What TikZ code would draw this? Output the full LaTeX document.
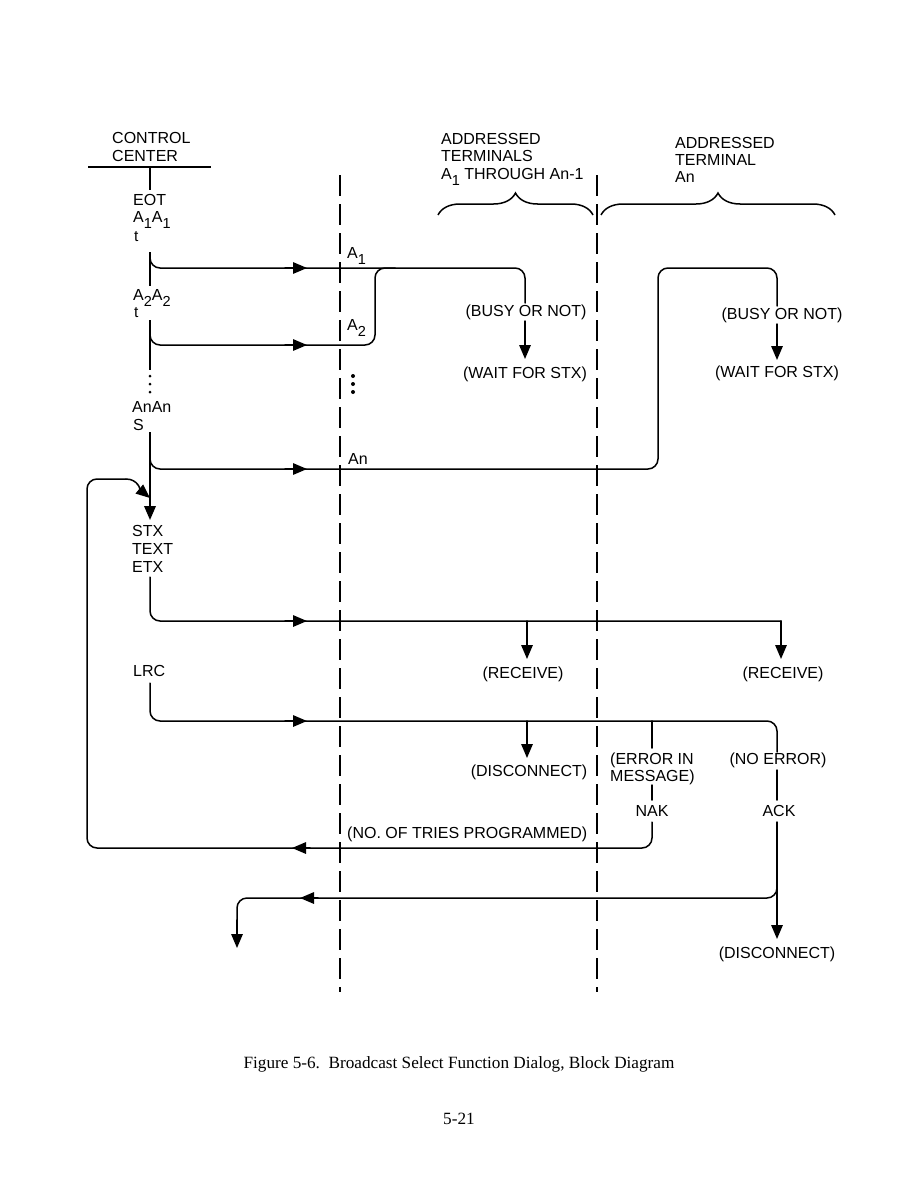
\documentclass[tikz,border=0pt]{standalone}
\usepackage{fontspec}
\setmainfont{Liberation Serif}
\newfontfamily\diagfont{Liberation Sans}
\usetikzlibrary{arrows.meta,decorations.pathreplacing}
\newcommand{\lowsub}[1]{\raisebox{-0.75ex}{\fontsize{14.5}{16}\selectfont #1}}
\tikzset{
  lbl/.style={font=\diagfont\fontsize{16}{19}\selectfont, inner sep=0pt, anchor=base},
  lblw/.style={lbl, anchor=base west},
  smallt/.style={font=\diagfont\fontsize{15.5}{18}\selectfont, inner sep=0pt, anchor=base west},
  ln/.style={line width=1.5pt, line cap=round},
  ctl/.style={line width=2pt},
  dl/.style={line width=1.5pt, dash pattern=on 21pt off 8pt},
  tip/.style={-{Triangle[length=14pt,width=11.5pt]}},
  rc/.style={rounded corners=10pt},
  brc/.style={line width=1.5pt, decorate, decoration={brace, amplitude=22pt, aspect=0.5}},
}
\begin{document}
\begin{tikzpicture}[x=1pt,y=-1pt]
\useasboundingbox (0,0) rectangle (918,1188);

% ---------- headings ----------
\node[lblw] (cc1) at (112,143) {CONTROL};
\node[lblw] (cc2) at (112,161) {CENTER};
\coordinate (ccL) at (88,167);
\coordinate (ccR) at (211,167);
\draw[ctl] (ccL) -- (ccR);

\node[lblw] (at1) at (441,144) {ADDRESSED};
\node[lblw] (at2) at (441,161) {TERMINALS};
\node[lblw] (at3) at (441,179) {A\lowsub{1} THROUGH An-1};
\node[lblw] (an1) at (675,148) {ADDRESSED};
\node[lblw] (an2) at (675,165) {TERMINAL};
\node[lblw] (an3) at (675,182) {An};

\coordinate (b1L) at (438,215);
\coordinate (b1R) at (593,215);
\coordinate (b2L) at (601,215);
\coordinate (b2R) at (835,215);
\draw[brc] (b1L) -- (b1R);
\draw[brc] (b2L) -- (b2R);

% ---------- dashed boundaries ----------
\coordinate (d1t) at (340,175); \coordinate (d1b) at (340,992);
\coordinate (d2t) at (597,175); \coordinate (d2b) at (597,992);
\draw[dl] (d1t) -- (d1b);
\draw[dl] (d2t) -- (d2b);

% ---------- control center column ----------
\coordinate (v0t) at (150,167); \coordinate (v0b) at (150,190);
\draw[ctl] (v0t) -- (v0b);
\node[lblw] (eot) at (133,205) {EOT};
\node[lblw] (a1a1) at (133,222) {A\lowsub{1}A\lowsub{1}};
\node[smallt] (t1) at (134,241) {t};

\coordinate (v1t) at (150,252); \coordinate (v1b) at (150,286);
\draw[ctl] (v1t) -- (v1b);
\node[lblw] (a2a2) at (133,300) {A\lowsub{2}A\lowsub{2}};
\node[smallt] (t2) at (134,317) {t};

\coordinate (v2t) at (150,320); \coordinate (v2b) at (150,370);
\draw[ctl] (v2t) -- (v2b);
\foreach \yy [count=\i] in {376,384,392} {
  \fill (150,\yy) circle (1.5pt) coordinate (cdot\i);
  \fill (353,\yy) circle (2pt) coordinate (ddot\i);
}
\node[lblw] (anan) at (132,412) {AnAn};
\node[lblw] (s) at (133,430) {S};

\coordinate (v3t) at (150,432); \coordinate (v3b) at (150,520);
\draw[ctl,tip] (v3t) -- (v3b);
\node[lblw] (stx) at (132,536) {STX};
\node[lblw] (text) at (132,554) {TEXT};
\node[lblw] (etx) at (132,572) {ETX};
\node[lblw] (lrc) at (133,676) {LRC};

% ---------- lane labels ----------
\node[lblw] (la1) at (347,258) {A\lowsub{1}};
\node[lblw] (la2) at (347,330) {A\lowsub{2}};
\node[lblw] (lan) at (348,464) {An};

% ---------- A1 ----------
\coordinate (a1s) at (150,256);
\coordinate (a1c) at (150,268);
\coordinate (a1r) at (525,268);
\coordinate (a1d) at (525,303);
\draw[ln,rc] (a1s) -- (a1c) -- (a1r) -- (a1d);
\draw[ln,tip] (285,268) -- (307,268);
\node[lbl] (busy1) at (526,316) {(BUSY OR NOT)};
\coordinate (w1t) at (525,321); \coordinate (w1b) at (525,359);
\draw[ln,tip] (w1t) -- (w1b);
\node[lbl] (wait1) at (525,378) {(WAIT FOR STX)};

% ---------- A2 ----------
\coordinate (a2s) at (150,333);
\coordinate (a2c) at (150,345);
\coordinate (a2r) at (375,345);
\coordinate (a2u) at (375,268);
\coordinate (a2j) at (395,268);
\draw[ln,rc] (a2s) -- (a2c) -- (a2r) -- (a2u) -- (a2j);
\draw[ln,tip] (285,345) -- (307,345);

% ---------- An ----------
\coordinate (ans) at (150,457);
\coordinate (anc) at (150,469);
\coordinate (anr) at (658,469);
\coordinate (anu) at (658,268);
\coordinate (anR) at (777,268);
\coordinate (and) at (777,306);
\draw[ln,rc] (ans) -- (anc) -- (anr) -- (anu) -- (anR) -- (and);
\draw[ln,tip] (285,469) -- (307,469);
\node[lbl] (busy2) at (782,319) {(BUSY OR NOT)};
\coordinate (w2t) at (777,324); \coordinate (w2b) at (777,360);
\draw[ln,tip] (w2t) -- (w2b);
\node[lbl] (wait2) at (777,377) {(WAIT FOR STX)};

% ---------- STX/TEXT/ETX ----------
\coordinate (tx0) at (150,577);
\coordinate (txc) at (150,621);
\coordinate (txr) at (781,621);
\coordinate (txd) at (781,659);
\draw[ln,rc] (tx0) -- (txc) -- (txr);
\draw[ln,tip] (txr) -- (txd);
\draw[ln,tip] (285,621) -- (307,621);
\coordinate (rc1t) at (527,621); \coordinate (rc1b) at (527,659);
\draw[ln,tip] (rc1t) -- (rc1b);
\node[lbl] (rec1) at (523,678) {(RECEIVE)};
\node[lbl] (rec2) at (783,678) {(RECEIVE)};

% ---------- LRC ----------
\coordinate (lr0) at (150,683);
\coordinate (lrc0) at (150,721);
\coordinate (lrR) at (777,721);
\coordinate (lrD) at (777,752);
\draw[ln,rc] (lr0) -- (lrc0) -- (lrR) -- (lrD);
\draw[ln,tip] (285,721) -- (307,721);
\coordinate (dc1t) at (527,721); \coordinate (dc1b) at (527,758);
\draw[ln,tip] (dc1t) -- (dc1b);
\node[lbl] (disc1) at (529,776) {(DISCONNECT)};
\coordinate (er0) at (652,721); \coordinate (er1) at (652,748);
\draw[ln] (er0) -- (er1);
\node[lblw] (err1) at (610,764) {(ERROR IN};
\node[lblw] (err2) at (610,781) {MESSAGE)};
\node[lbl] (noerr) at (778,764) {(NO ERROR)};
\coordinate (nk0) at (652,785); \coordinate (nk1) at (652,800);
\draw[ln] (nk0) -- (nk1);
\node[lbl] (nak) at (652,816) {NAK};
\coordinate (ak0) at (777,770); \coordinate (ak1) at (777,800);
\draw[ln] (ak0) -- (ak1);
\node[lbl] (ack) at (779,816) {ACK};

% ---------- retry loop ----------
\coordinate (lp0) at (652,822);
\coordinate (lp1) at (652,848);
\coordinate (lp2) at (87,848);
\coordinate (lp3) at (87,479);
\coordinate (lp4) at (126,479);
\coordinate (lp5) at (150,498);
\draw[ln,rc] (lp0) -- (lp1) -- (lp2) -- (lp3) -- (lp4);
\draw[ln,tip] (lp4) to[out=0,in=140] (lp5);
\draw[ln,tip] (310,848) -- (292,848);
\node[lblw] (tries) at (347,838) {(NO. OF TRIES PROGRAMMED)};

% ---------- ACK ----------
\coordinate (ak2) at (777,822);
\coordinate (ak3) at (777,939);
\draw[ln,tip] (ak2) -- (ak3);
\node[lbl] (disc2) at (777,958) {(DISCONNECT)};
\coordinate (ab0) at (777,885);
\coordinate (ab1) at (777,898);
\coordinate (ab2) at (237,898);
\coordinate (ab3) at (237,948);
\draw[ln,rc] (ab0) -- (ab1) -- (ab2) -- (237,925);
\draw[ln,tip] (237,920) -- (ab3);
\draw[ln,tip] (318,898) -- (300,898);

% ---------- caption ----------
\node[anchor=base, inner sep=0pt, font=\fontsize{17.2}{20}\selectfont] (cap) at (459,1068)
  {Figure 5-6.\ \ Broadcast Select Function Dialog, Block Diagram};
\node[anchor=base, inner sep=0pt, font=\fontsize{17.2}{20}\selectfont] (pg) at (459,1124) {5-21};
\end{tikzpicture}
\end{document}
